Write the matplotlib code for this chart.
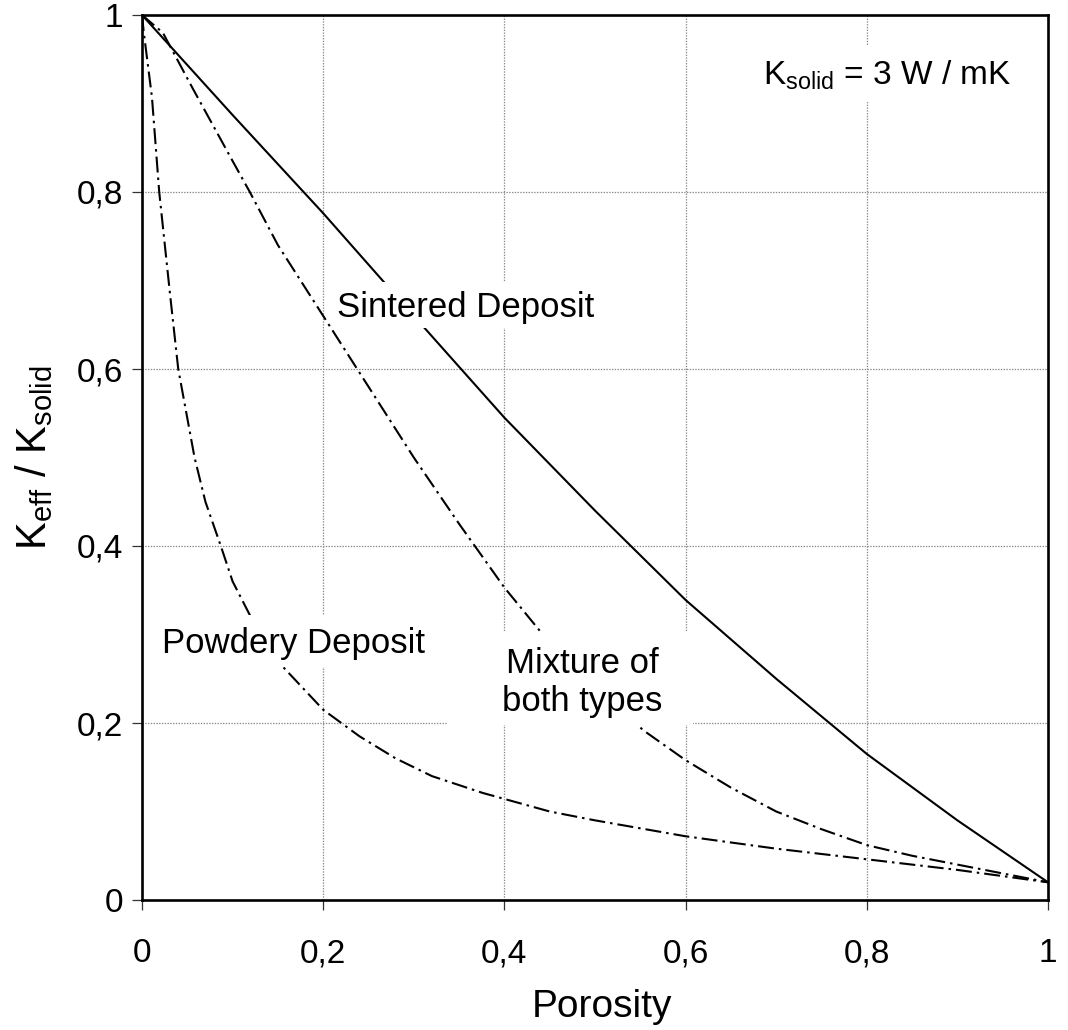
import matplotlib
matplotlib.use("Agg")
import matplotlib.pyplot as plt
from matplotlib.patches import Rectangle

plt.rcParams["font.family"] = ["Liberation Sans", "DejaVu Sans"]
plt.rcParams["mathtext.fontset"] = "custom"
plt.rcParams["mathtext.rm"] = "Liberation Sans"
plt.rcParams["mathtext.it"] = "Liberation Sans:italic"
plt.rcParams["lines.scale_dashes"] = False

# Effective conductivity ratio vs. porosity for three deposit structures
sintered_porosity = [0.0, 0.1, 0.2, 0.3, 0.4, 0.5, 0.6, 0.7, 0.8, 0.9, 1.0]
sintered_ratio = [1.0, 0.887, 0.776, 0.66, 0.545, 0.44, 0.339, 0.25, 0.165, 0.09, 0.02]

mixture_porosity = [0.0, 0.023, 0.056, 0.1, 0.119, 0.15, 0.2, 0.25, 0.3, 0.35, 0.4, 0.44,
                    0.5, 0.553, 0.6, 0.65, 0.7, 0.75, 0.8, 0.85, 0.9, 1.0]
mixture_ratio = [1.0, 0.98, 0.917, 0.835, 0.8, 0.74, 0.66, 0.58, 0.5, 0.425, 0.353, 0.303,
                 0.245, 0.192, 0.158, 0.127, 0.1, 0.08, 0.062, 0.05, 0.04, 0.02]

powdery_porosity = [0.0, 0.002, 0.011, 0.019, 0.031, 0.04, 0.058, 0.07, 0.087, 0.1, 0.119,
                    0.14, 0.156, 0.2, 0.24, 0.28, 0.32, 0.376, 0.45, 0.5, 0.6, 0.7, 0.8, 0.9, 1.0]
powdery_ratio = [1.0, 0.98, 0.907, 0.8, 0.684, 0.6, 0.5, 0.45, 0.4, 0.36, 0.322,
                 0.285, 0.263, 0.215, 0.185, 0.16, 0.14, 0.121, 0.1, 0.09, 0.072, 0.058, 0.046, 0.034, 0.02]

tick_values = [0.0, 0.2, 0.4, 0.6, 0.8, 1.0]
tick_labels = ["0", "0,2", "0,4", "0,6", "0,8", "1"]

W, H = 1068, 1030
fig = plt.figure(figsize=(W / 100, H / 100), dpi=100)
ax = fig.add_axes([142 / W, 1 - 900 / H, (1048 - 142) / W, (900 - 15) / H])

dash_dot = (0, (11.5, 3.6, 1.8, 3.6))
ax.plot(sintered_porosity, sintered_ratio, color="black", lw=1.5, zorder=3)
ax.plot(mixture_porosity, mixture_ratio, color="black", lw=1.5, ls=dash_dot, zorder=3)
ax.plot(powdery_porosity, powdery_ratio, color="black", lw=1.5, ls=dash_dot, zorder=3)

ax.set_xlim(0, 1)
ax.set_ylim(0, 1)
ax.set_xticks(tick_values)
ax.set_xticklabels(tick_labels)
ax.set_yticks(tick_values)
ax.set_yticklabels(tick_labels)
ax.grid(True, color="#8a8a8a", lw=0.9, ls=(0, (1, 1)), zorder=1)
ax.set_axisbelow(True)

for s in ax.spines.values():
    s.set_linewidth(1.9)
    s.set_zorder(5)
ax.tick_params(axis="both", direction="out", length=7.5, width=0.9, color="#333333",
               labelsize=24)
ax.tick_params(axis="x", pad=20)
ax.tick_params(axis="y", pad=6)

ax.set_xlabel("Porosity", fontsize=28)
ax.xaxis.set_label_coords(0.508, -0.101)
ax.set_ylabel(r"$\mathregular{K_{eff}\ /\ K_{solid}}$", fontsize=30, labelpad=16)

# White label boxes that mask the grid and curves behind the annotations
boxes = [
    (0.212, 0.646, 0.5, 0.698),
    (0.009, 0.263, 0.323, 0.322),
    (0.338, 0.198, 0.608, 0.303),
    (0.671, 0.902, 0.969, 0.966),
]
for x0, y0, x1, y1 in boxes:
    ax.add_patch(Rectangle((x0, y0), x1 - x0, y1 - y0, facecolor="white",
                           edgecolor="none", zorder=4))

ax.text(0.215, 0.659, "Sintered Deposit", fontsize=25, ha="left", va="baseline", zorder=6)
ax.text(0.022, 0.279, "Powdery Deposit", fontsize=25, ha="left", va="baseline", zorder=6)
ax.text(0.486, 0.2136, "Mixture of\nboth types", fontsize=25, ha="center", va="baseline",
        linespacing=1.2, zorder=6)
ax.text(0.685, 0.921, r"$\mathregular{K_{solid}}$ = 3 W / mK", fontsize=24,
        ha="left", va="baseline", zorder=6)

fig.savefig("out.png", dpi=100)
